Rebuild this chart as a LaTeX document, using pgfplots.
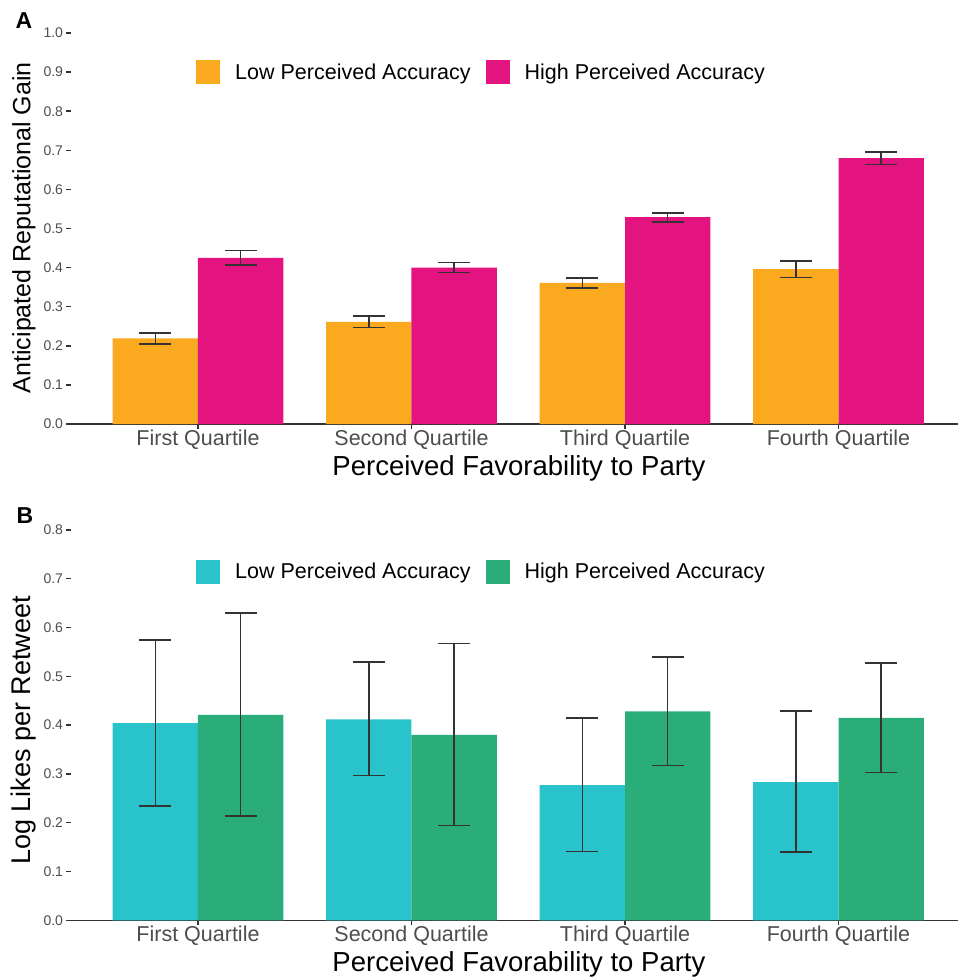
\documentclass[border=0pt]{standalone}
\usepackage{fontspec}
\setmainfont{Liberation Sans}
\usepackage{pgfplots}
\pgfplotsset{compat=1.18}
\usepackage{pgfplotstable}

\definecolor{cOrange}{HTML}{FBA91E}
\definecolor{cPink}{HTML}{E3137F}
\definecolor{cCyan}{HTML}{29C3CC}
\definecolor{cGreen}{HTML}{2BAD7A}
\definecolor{tickgray}{HTML}{4D4D4D}
\definecolor{errgray}{HTML}{333333}

% x  y  ep  em
\pgfplotstableread{
x y ep em
0.8 0.219 0.014 0.014
1.8 0.261 0.015 0.014
2.8 0.361 0.013 0.013
3.8 0.396 0.021 0.021
}\topLow
\pgfplotstableread{
x y ep em
1.2 0.425 0.019 0.018
2.2 0.400 0.013 0.013
3.2 0.529 0.011 0.012
4.2 0.680 0.016 0.016
}\topHigh
\pgfplotstableread{
x y ep em
0.8 0.404 0.171 0.170
1.8 0.412 0.117 0.115
2.8 0.277 0.138 0.136
3.8 0.283 0.146 0.143
}\botLow
\pgfplotstableread{
x y ep em
1.2 0.421 0.209 0.207
2.2 0.380 0.187 0.186
3.2 0.428 0.112 0.111
4.2 0.415 0.112 0.112
}\botHigh

\pgfplotsset{
  panel/.style={
    scale only axis, width=887bp,
    xmin=0.4052, xmax=4.5597, ymin=0,
    clip=false,
    axis x line*=bottom, axis y line*=left,
    y axis line style={draw=none},
    x axis line style={line width=1.3bp, color=errgray},
    xtick={1,2,3,4},
    xticklabels={First Quartile, Second Quartile, Third Quartile, Fourth Quartile},
    tick style={color=errgray, line width=1.4bp},
    tick align=outside, major tick length=4.5bp,
    /pgf/number format/assume math mode=true,
    x tick label style={font=\fontsize{21.5bp}{24bp}\selectfont, text=tickgray, yshift=2.5bp},
    y tick label style={font=\fontsize{14bp}{16bp}\selectfont, text=tickgray,
      /pgf/number format/.cd, fixed, fixed zerofill, precision=1},
    xlabel={Perceived Favorability to Party},
    xlabel style={at={(axis description cs:0.505,0)}, anchor=base, yshift=-51bp,
      font=\fontsize{27.5bp}{30bp}\selectfont},
    ylabel style={anchor=center, font=\fontsize{26bp}{30bp}\selectfont},
    ybar, bar width=0.4, bar shift=0pt,
    legend image code/.code={\fill[#1] (0bp,-12bp) rectangle (24bp,12bp);},
    legend columns=2,
    legend style={draw=none, fill=none, anchor=center,
      font=\fontsize{21.5bp}{24bp}\selectfont,
      nodes={inner sep=0bp},
      /tikz/every odd column/.append style={column sep=15bp},
      /tikz/every even column/.append style={column sep=15bp}},
    error bars/y dir=both, error bars/y explicit,
    error bars/error bar style={line width=1.5bp, color=errgray},
    error bars/error mark options={rotate=90, line width=1.5bp, color=errgray, mark size=16bp},
  },
}

\begin{document}
\begin{tikzpicture}
\useasboundingbox (-71bp,424bp) rectangle (887bp,-556bp);

\begin{axis}[panel, at={(0bp,0bp)}, anchor=south west, height=391bp,
  ymax=1, ytick={0,0.1,...,1.0},
  ylabel={Anticipated Reputational Gain},
  ylabel style={at={(axis description cs:-0.053,0.502)}, font=\fontsize{25bp}{30bp}\selectfont},
  legend style={at={(axis description cs:0.4617,0.90)}}]
\addplot[fill=cOrange, draw=none] table[x=x, y=y, y error plus=ep, y error minus=em] {\topLow};
\addplot[fill=cPink, draw=none] table[x=x, y=y, y error plus=ep, y error minus=em] {\topHigh};
\legend{Low Perceived Accuracy, High Perceived Accuracy}
\end{axis}

\begin{axis}[panel, at={(0bp,-496.3bp)}, anchor=south west, height=390.3bp,
  ymax=0.8, ytick={0,0.1,...,0.8},
  ylabel={Log Likes per Retweet},
  ylabel style={at={(axis description cs:-0.053,0.486)}, font=\fontsize{27bp}{30bp}\selectfont},
  legend style={at={(axis description cs:0.4617,0.8936)}}]
\addplot[fill=cCyan, draw=none] table[x=x, y=y, y error plus=ep, y error minus=em] {\botLow};
\addplot[fill=cGreen, draw=none] table[x=x, y=y, y error plus=ep, y error minus=em] {\botHigh};
\legend{Low Perceived Accuracy, High Perceived Accuracy}
\end{axis}

\node[anchor=base west, font=\fontsize{23bp}{26bp}\selectfont\bfseries] at (-59bp,395bp) {A};
\node[anchor=base west, font=\fontsize{23bp}{26bp}\selectfont\bfseries] at (-58bp,-99bp) {B};
\end{tikzpicture}
\end{document}
